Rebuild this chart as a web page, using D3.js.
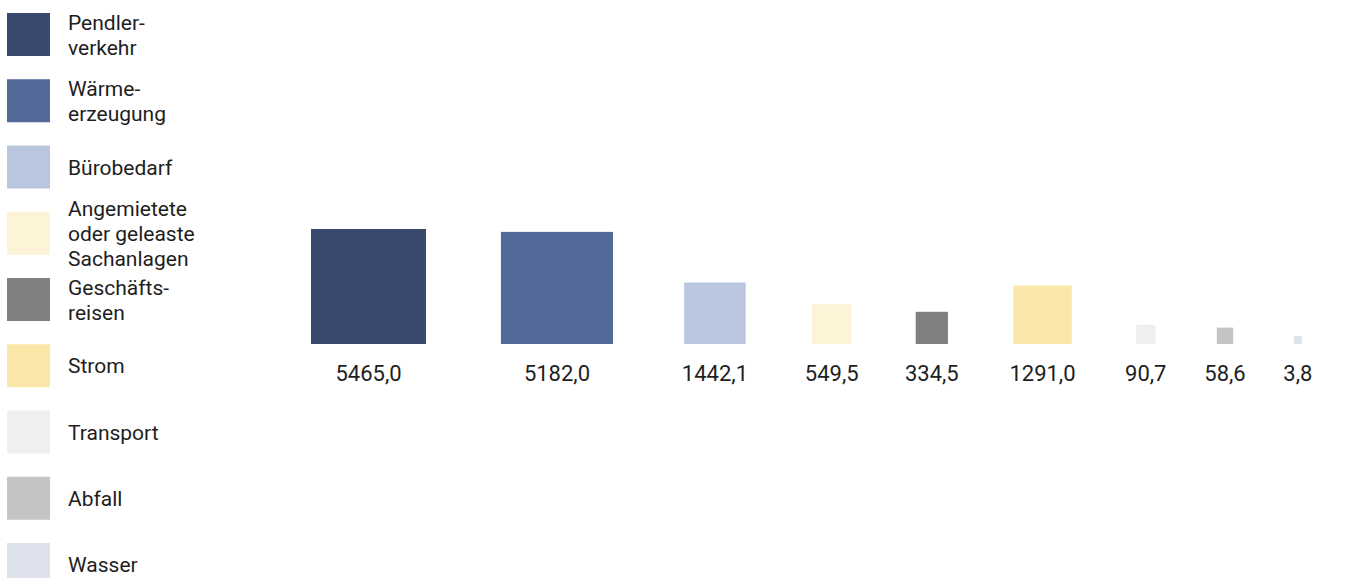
<!DOCTYPE html>
<html lang="de">
<head>
<meta charset="utf-8">
<title>Emissionen nach Kategorie</title>
<script src="https://cdn.jsdelivr.net/npm/d3@7/dist/d3.min.js"></script>
<style>
    html, body { margin: 0; padding: 0; background: #fff; }
    svg { display: block; font-family: Roboto, "Open Sans", sans-serif; }
    .legend-label, .value-label { fill: #1e1e1e; }
</style>
</head>
<body>
<div id="chart"></div>
<script>
// categories in legend order (lines split where the original breaks them)
const categories = [
    'Pendler-\nverkehr',
    'Wärme-\nerzeugung',
    'Bürobedarf',
    'Angemietete\noder geleaste\nSachanlagen',
    'Geschäfts-\nreisen',
    'Strom',
    'Transport',
    'Abfall',
    'Wasser'
];
const values = [5465.0, 5182.0, 1442.1, 549.5, 334.5, 1291.0, 90.7, 58.6, 3.8];
const colors = ['#3a4a6e', '#536a98', '#bac6de', '#fdf4d8', '#7f807f', '#fae7a9', '#eeeff1', '#c4c4c4', '#dde1ec'];

const width = 1370, height = 578;

const svg = d3.select('#chart').append('svg')
    .attr('width', width)
    .attr('height', height);

// ---- legend ----
const legendStep = 66.25;
const swatch = 43;
const legend = svg.append('g').attr('transform', 'translate(7,13)');

const item = legend.selectAll('g.legend-item')
    .data(categories)
    .join('g')
    .attr('class', 'legend-item')
    .attr('transform', function (d, i) { return 'translate(0,' + (i * legendStep) + ')'; });

item.append('rect')
    .attr('width', swatch)
    .attr('height', swatch)
    .attr('fill', function (d, i) { return colors[i]; });

item.append('text')
    .attr('class', 'legend-label')
    .attr('x', 61)
    .style('font-size', '21px')
    .each(function (d) {
        const lines = d.split('\n');
        const lh = 25;
        // centre the block of lines on the swatch
        const first = swatch / 2 + 7.5 - (lines.length - 1) * lh / 2;
        const t = d3.select(this);
        lines.forEach(function (line, j) {
            t.append('tspan')
                .attr('x', 61)
                .attr('y', first + j * lh)
                .text(line);
        });
    });

// ---- squares (area ~ value) ----
const side = d3.scaleSqrt()
    .domain([0, d3.max(values)])
    .range([5, 115]);

const baseY = 344;
const firstX = 368.5;

// lay the squares out left to right, spacing grows with square size
const centers = [];
values.forEach(function (v, i) {
    if (i === 0) { centers.push(firstX); return; }
    const avg = (side(values[i - 1]) + side(v)) / 2;
    centers.push(centers[i - 1] + 59 + 1.14 * avg);
});

const fmt = d3.formatLocale({ decimal: ',', thousands: '', grouping: [3], currency: ['', ''] }).format('.1f');

const box = svg.append('g').selectAll('g.box')
    .data(values)
    .join('g')
    .attr('class', 'box')
    .attr('transform', function (d, i) { return 'translate(' + centers[i] + ',0)'; });

box.append('rect')
    .attr('x', function (d) { return -side(d) / 2; })
    .attr('y', function (d) { return baseY - side(d); })
    .attr('width', function (d) { return side(d); })
    .attr('height', function (d) { return side(d); })
    .attr('fill', function (d, i) { return colors[i]; });

box.append('text')
    .attr('class', 'value-label')
    .attr('y', baseY + 37)
    .attr('text-anchor', 'middle')
    .style('font-size', '22px')
    .text(function (d) { return fmt(d); });
</script>
</body>
</html>
